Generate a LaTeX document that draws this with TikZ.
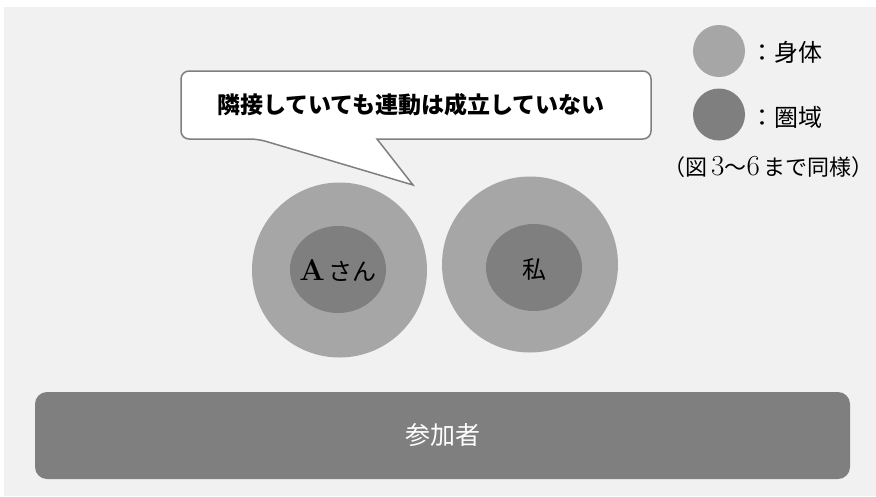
\documentclass[tikz,border=0pt]{standalone}
\usepackage{fontspec}
\newfontfamily\jp{Noto Sans CJK JP}
\usetikzlibrary{shapes.geometric}
\definecolor{bgback}{HTML}{F1F1F1}
\definecolor{bodygray}{HTML}{A6A6A6}
\definecolor{areagray}{HTML}{7F7F7F}
\definecolor{linegray}{HTML}{7F7F7F}

\begin{document}
\begin{tikzpicture}[x=1pt,y=-1pt,
  body/.style={circle,fill=bodygray,minimum size=#1,inner sep=0pt},
  area/.style={ellipse,fill=areagray,minimum width=96pt,minimum height=87pt,inner sep=0pt},
  person/.style={inner sep=0pt,font=\fontsize{24}{28}\selectfont},
  legend/.style={anchor=west,font=\fontsize{24}{28}\selectfont\jp},
  bubble/.style={draw=linegray,line width=1.5pt,fill=white},
  crowdbar/.style={rounded corners=12pt,fill=areagray,minimum width=815pt,minimum height=87pt,text=white,font=\fontsize{25}{28}\selectfont\jp}]

\useasboundingbox (0,0) rectangle (876,496);
\fill[bgback] (4,7) rectangle (876,496);

\draw[bubble] (258,139) [sharp corners] -- (413,185) -- (377,139) [rounded corners=8pt] -- (651,139) -- (651,71) -- (181,71) -- (181,139) -- cycle;
\node[font=\fontsize{23}{26}\selectfont\jp\bfseries] (claim) at (411,105) {隣接していても連動は成立していない};

\node[body=175pt] (abody) at (339.5,270) {};
\node[area] (aarea) at (338,269.5) {};
\node[person] (aname) at (338,270) {{\fontsize{30}{32}\selectfont\textbf{A}}\,{\jp さん}};
\node[body=176pt] (mebody) at (530,264.5) {};
\node[area] (mearea) at (534,267.5) {};
\node[person] (mename) at (534,269) {\jp 私};

\node[body=52pt] (keybody) at (719,51) {};
\node[body=52pt,fill=areagray] (keyarea) at (719,114.5) {};
\node[legend] (keybodytext) at (747,52) {：身体};
\node[legend] (keyareatext) at (747,117) {：圏域};
\node[font=\fontsize{22}{26}\selectfont] (keynote) at (768.5,167) {{\jp （図}\,{\fontsize{29}{30}\selectfont 3}{\jp ～}{\fontsize{29}{30}\selectfont 6}\,{\jp まで同様）}};

\node[crowdbar] (crowd) at (442.5,435.5) {参加者};
\end{tikzpicture}
\end{document}
